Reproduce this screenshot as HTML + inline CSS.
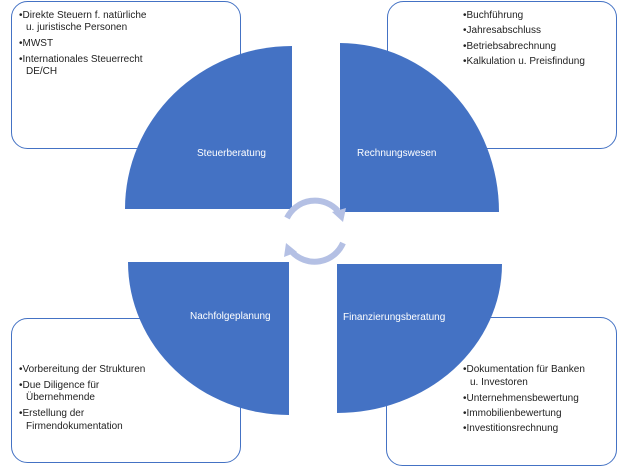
<!DOCTYPE html>
<html><head><style>
body{margin:0;background:#fff;}
svg text{font-family:"Liberation Sans",sans-serif;font-size:10px;fill:#222;}
svg text.w{fill:#fff;}
</style></head><body>
<svg width="627" height="467" viewBox="0 0 627 467" xmlns="http://www.w3.org/2000/svg">
<g fill="#fff" stroke="#4472c4" stroke-width="1">
<rect x="11.5" y="1.5" width="229" height="147" rx="16"/>
<rect x="387.5" y="1.5" width="229" height="147" rx="16"/>
<rect x="11.5" y="318.5" width="229" height="144" rx="16"/>
<rect x="386.5" y="317.5" width="230" height="148" rx="16"/>
</g>
<g fill="#4472c4">
<path d="M292,209 L125,209 A167,163 0 0 1 292,46 Z"/>
<path d="M340,212 L340,43 A159,169 0 0 1 499,212 Z"/>
<path d="M289,262 L289,415 A161,153 0 0 1 128,262 Z"/>
<path d="M337,264 L502,264 A165,149 0 0 1 337,413 Z"/>
</g>
<g fill="none" stroke="#b4c0e4" stroke-width="6">
<path d="M287,218 A31,31 0 0 1 338,211"/>
<path d="M343,243 A31,31 0 0 1 292,252"/>
</g>
<g fill="#b4c0e4">
<path d="M332,212 L346,208 L343,222 Z"/>
<path d="M297,252 L284,257 L286,243 Z"/>
</g>
<text x="197" y="156" class="w">Steuerberatung</text>
<text x="357" y="156" class="w">Rechnungswesen</text>
<text x="190" y="319" class="w">Nachfolgeplanung</text>
<text x="343" y="320" class="w">Finanzierungsberatung</text>
<text x="19" y="18">•Direkte Steuern f. natürliche</text>
<text x="26" y="30">u. juristische Personen</text>
<text x="19" y="46">•MWST</text>
<text x="19" y="62">•Internationales Steuerrecht</text>
<text x="26" y="74">DE/CH</text>
<text x="463" y="18">•Buchführung</text>
<text x="463" y="33">•Jahresabschluss</text>
<text x="463" y="49">•Betriebsabrechnung</text>
<text x="463" y="64">•Kalkulation u. Preisfindung</text>
<text x="19" y="372">•Vorbereitung der Strukturen</text>
<text x="19" y="388">•Due Diligence für</text>
<text x="26" y="400">Übernehmende</text>
<text x="19" y="416">•Erstellung der</text>
<text x="26" y="429">Firmendokumentation</text>
<text x="463" y="372">•Dokumentation für Banken</text>
<text x="470" y="385">u. Investoren</text>
<text x="463" y="401">•Unternehmensbewertung</text>
<text x="463" y="416">•Immobilienbewertung</text>
<text x="463" y="431">•Investitionsrechnung</text>
</svg>
</body></html>
